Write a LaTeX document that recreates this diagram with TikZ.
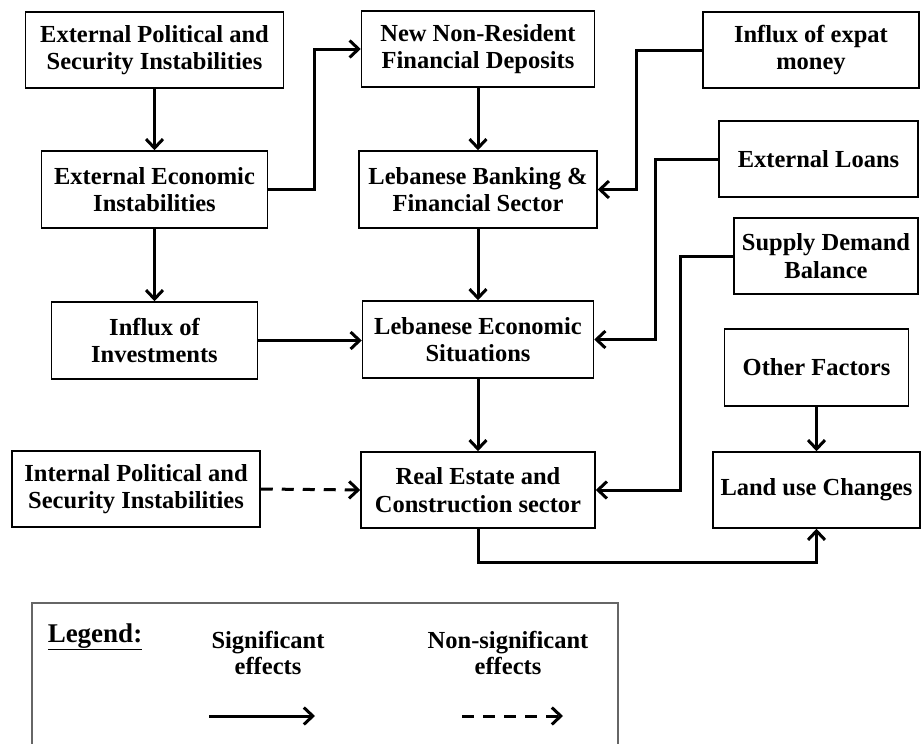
\documentclass[tikz,border=0pt]{standalone}
\usepackage{fontspec}
\setmainfont{Liberation Serif}
\usetikzlibrary{arrows.meta}
\begin{document}
\begin{tikzpicture}[x=1pt,y=-1pt,
  box/.style={draw, line width=1.5pt, align=center, inner sep=2pt,
    font=\bfseries\fontsize{24.5}{27.7}\selectfont},
  conn/.style={line width=3pt, -{Straight Barb[length=9pt,width=17pt]}},
  dconn/.style={conn, dash pattern=on 12pt off 9pt},
  legtext/.style={align=center, inner sep=0pt, font=\bfseries\fontsize{24.5}{26}\selectfont}]
\useasboundingbox (0,0) rectangle (922,744);
% boxes
\node[box, minimum width=258, minimum height=76] (b1) at (154.5,50) {External Political and\\Security Instabilities};
\node[box, minimum width=233, minimum height=76] (b2) at (478,49) {New Non-Resident\\Financial Deposits};
\node[box, minimum width=216, minimum height=76] (b3) at (811,50) {Influx of expat\\money};
\node[box, minimum width=226, minimum height=77] (b4) at (154.5,189.5) {External Economic\\Instabilities};
\node[box, minimum width=238, minimum height=77] (b5) at (478,189.5) {Lebanese Banking \&\\Financial Sector};
\node[box, minimum width=199, minimum height=76] (b6) at (818.5,159) {External Loans};
\node[box, minimum width=184, minimum height=76] (b7) at (826,256) {Supply Demand\\Balance};
\node[box, minimum width=206, minimum height=77] (b8) at (154.5,340.5) {Influx of\\Investments};
\node[box, minimum width=231, minimum height=77] (b9) at (478,339.5) {Lebanese Economic\\Situations};
\node[box, minimum width=184, minimum height=77] (b10) at (816.5,367.5) {Other Factors};
\node[box, minimum width=248, minimum height=76] (b11) at (136,489) {Internal Political and\\Security Instabilities};
\node[box, minimum width=234, minimum height=76] (b12) at (478,490) {Real Estate and\\Construction sector};
\node[box, minimum width=207, minimum height=76] (b13) at (816.5,490) {Land use Changes};
% connectors
\draw[conn] (b1.south) -- (b4.north);
\draw[conn] (b4.east) -- ++(46,0) |- (b2.west);
\draw[conn] (b2.south) -- (b5.north);
\draw[conn] (b3.west) -- ++(-66,0) |- (b5.east);
\draw[conn] (b4.south) -- (b8.north);
\draw[conn] (b5.south) -- (b9.north);
\draw[conn] (b8.east) -- (b9.west |- b8.east);
\draw[conn] (b6.west) -- ++(-63,0) |- (b9.east);
\draw[conn] (b7.west) -- ++(-53,0) |- (b12.east);
\draw[dconn] (b11.east) -- (b12.west);
\draw[conn] (b9.south) -- (b12.north);
\draw[conn] (b12.south) -- ++(0,34) -| (b13.south);
\draw[conn] (b10.south) -- (b13.north);
% legend
\draw[line width=1.5pt, gray!80!black] (32,750) -- (32,603) -- (618,603) -- (618,750);
\node[legtext, anchor=base, font=\bfseries\fontsize{27}{28}\selectfont] (lg) at (95,642) {\underline{Legend:}};
\node[legtext] (ls) at (268,653) {Significant\\effects};
\node[legtext] (ln) at (508,653) {Non-significant\\effects};
\coordinate (s1) at (209,716);
\coordinate (s2) at (315,716);
\coordinate (n1) at (462,716);
\coordinate (n2) at (563,716);
\draw[conn] (s1) -- (s2);
\draw[dconn] (n1) -- (n2);
\end{tikzpicture}
\end{document}
